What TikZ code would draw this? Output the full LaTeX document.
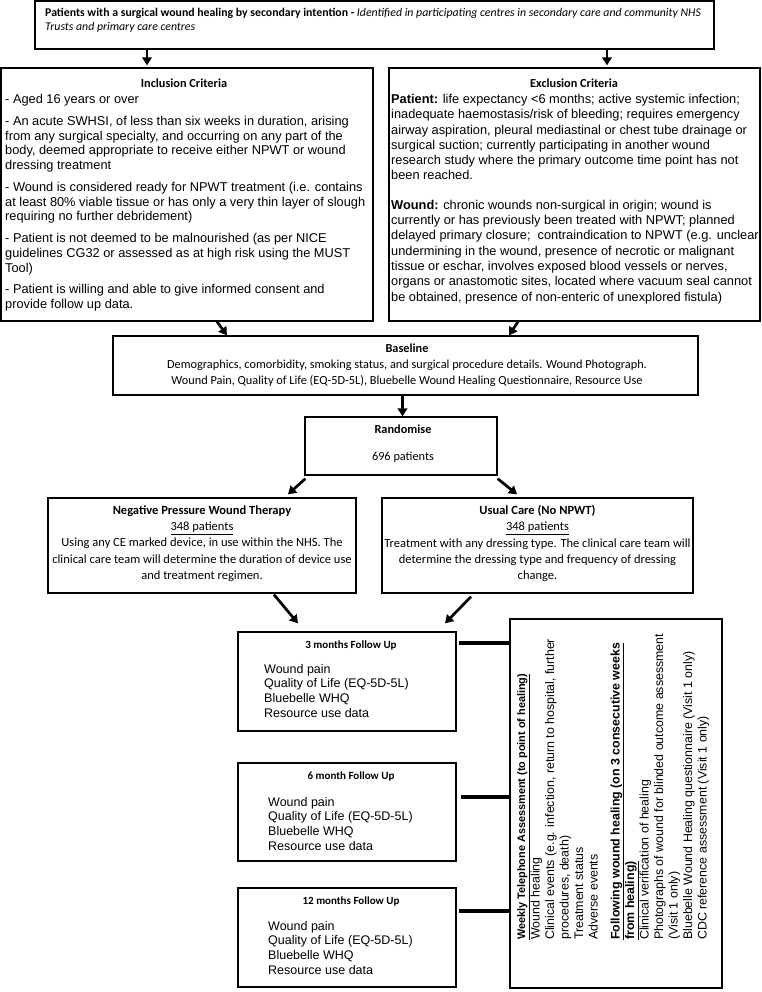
\documentclass[tikz,border=0pt]{standalone}
\usepackage{fontspec}
\setmainfont{Liberation Sans}
\newfontfamily\calfont{Carlito}
\newfontfamily\arialfont{Liberation Sans}
\usetikzlibrary{arrows.meta}

\begin{document}
\begin{tikzpicture}[x=1pt,y=-1pt,
  box/.style={draw, line width=1.3pt, inner sep=0pt},
  arr/.style={line width=2.7pt, -{Triangle[length=8pt,width=9.5pt]}},
  link/.style={line width=4pt},
  txt/.style={inner sep=0pt, align=left},
  ctxt/.style={inner sep=0pt, align=center},
  arbody/.style={font=\arialfont\fontsize{12.8}{14.7}\selectfont},
  exbody/.style={font=\arialfont\fontsize{12.8}{15.3}\selectfont},
  listbody/.style={font=\arialfont\fontsize{12.5}{14.7}\selectfont},
  crit/.style={font=\calfont\bfseries\fontsize{12.3}{14}\selectfont},
  fut/.style={font=\calfont\bfseries\fontsize{11}{13}\selectfont},
  calbody/.style={font=\calfont\fontsize{12.5}{16.2}\selectfont}
]
\useasboundingbox (0,0) rectangle (762,992);

% ---------- boxes ----------
\node[box, minimum width=679pt, minimum height=48pt] (top) at (374.5,25) {};
\node[box, minimum width=372pt, minimum height=253pt] (inc) at (187,194.5) {};
\node[box, minimum width=371pt, minimum height=253pt] (exc) at (574.5,194.5) {};
\node[box, minimum width=585pt, minimum height=59pt] (base) at (405.5,365.5) {};
\node[box, minimum width=192pt, minimum height=58pt] (rand) at (401,446) {};
\node[box, minimum width=308pt, minimum height=95pt] (npwt) at (202,545.5) {};
\node[box, minimum width=311pt, minimum height=95pt] (uc) at (537.5,545.5) {};
\node[box, minimum width=218pt, minimum height=99pt] (fu3) at (347,681.5) {};
\node[box, minimum width=218pt, minimum height=98pt] (fu6) at (347,812) {};
\node[box, minimum width=218pt, minimum height=99pt] (fu12) at (347,937.5) {};
\node[box, minimum width=212pt, minimum height=369pt] (tel) at (616,803.5) {};

% ---------- texts ----------
\node[txt, anchor=north west, font=\calfont\fontsize{11.8}{14}\selectfont] (toptext) at (45,8)
  {\textbf{Patients with a surgical wound healing by secondary intention -} \textit{Identified in participating centres in secondary care and community NHS}\\
   \textit{Trusts and primary care centres}};

\node[crit] (inctitle) at (184,83) {Inclusion Criteria};
\node[txt, arbody, anchor=north west] (inctext) at (5,94)
  {- Aged 16 years or over\\[7.2pt]
   - An acute SWHSI, of less than six weeks in duration, arising\\
   from any surgical specialty, and occurring on any part of the\\
   body, deemed appropriate to receive either NPWT or wound\\
   dressing treatment\\[7.2pt]
   - Wound is considered ready for NPWT treatment (i.e. contains\\
   at least 80\% viable tissue or has only a very thin layer of slough\\
   requiring no further debridement)\\[7.2pt]
   - Patient is not deemed to be malnourished (as per NICE\\
   guidelines CG32 or assessed as at high risk using the MUST\\
   Tool)\\[7.2pt]
   - Patient is willing and able to give informed consent and\\
   provide follow up data.};

\node[crit] (exctitle) at (574,83) {Exclusion Criteria};
\node[txt, exbody, anchor=north west] (exctext) at (391,94)
  {\textbf{Patient:} life expectancy <6 months; active systemic infection;\\
   inadequate haemostasis/risk of bleeding; requires emergency\\
   airway aspiration, pleural mediastinal or chest tube drainage or\\
   surgical suction; currently participating in another wound\\
   research study where the primary outcome time point has not\\
   been reached.\\[14pt]
   \textbf{Wound:} chronic wounds non-surgical in origin; wound is\\
   currently or has previously been treated with NPWT; planned\\
   delayed primary closure;\ \ contraindication to NPWT (e.g. unclear\\
   undermining in the wound, presence of necrotic or malignant\\
   tissue or eschar, involves exposed blood vessels or nerves,\\
   organs or anastomotic sites, located where vacuum seal cannot\\
   be obtained, presence of non-enteric of unexplored fistula)};

\node[ctxt, font=\calfont\fontsize{12.3}{15.8}\selectfont] (basetext) at (407,365)
  {\textbf{Baseline}\\
   Demographics, comorbidity, smoking status, and surgical procedure details. Wound Photograph.\\
   Wound Pain, Quality of Life (EQ-5D-5L), Bluebelle Wound Healing Questionnaire, Resource Use};

\node[ctxt, font=\calfont\fontsize{12.3}{16}\selectfont] (randtext) at (403,443.5)
  {\textbf{Randomise}\\[11pt] 696 patients};

\node[ctxt, calbody] (npwttext) at (202,543.5)
  {\textbf{Negative Pressure Wound Therapy}\\
   \underline{348 patients}\\
   Using any CE marked device, in use within the NHS. The\\
   clinical care team will determine the duration of device use\\
   and treatment regimen.};

\node[ctxt, calbody] (uctext) at (537.5,543.5)
  {\textbf{Usual Care (No NPWT)}\\
   \underline{348 patients}\\
   Treatment with any dressing type. The clinical care team will\\
   determine the dressing type and frequency of dressing\\
   change.};

\node[fut] (fu3title) at (351,645) {3 months Follow Up};
\node[txt, listbody, anchor=north west] (fu3text) at (264,664)
  {Wound pain\\ Quality of Life (EQ-5D-5L)\\ Bluebelle WHQ\\ Resource use data};

\node[fut] (fu6title) at (351,776) {6 month Follow Up};
\node[txt, listbody, anchor=north west] (fu6text) at (268,797)
  {Wound pain\\ Quality of Life (EQ-5D-5L)\\ Bluebelle WHQ\\ Resource use data};

\node[fut] (fu12title) at (351,901) {12 months Follow Up};
\node[txt, listbody, anchor=north west] (fu12text) at (268,921)
  {Wound pain\\ Quality of Life (EQ-5D-5L)\\ Bluebelle WHQ\\ Resource use data};

\node[txt, rotate=90, anchor=north west, font=\arialfont\fontsize{12.4}{14.5}\selectfont] (teltext) at (517,940)
  {{\fontsize{10.9}{14.5}\selectfont\textbf{\underline{Weekly Telephone Assessment (to point of healing)}}}\\
   Wound healing\\
   Clinical events (e.g. infection, return to hospital, further\\
   procedures, death)\\
   Treatment status\\
   Adverse events\\[7.5pt]
   \textbf{\underline{Following wound healing (on 3 consecutive weeks}}\\
   \textbf{\underline{from healing)}}\\
   Clinical verification of healing\\
   Photographs of wound for blinded outcome assessment\\
   (Visit 1 only)\\
   Bluebelle Wound Healing questionnaire (Visit 1 only)\\
   CDC reference assessment (Visit 1 only)};

% ---------- connectors ----------
\coordinate (a1) at ([xshift=-227.5pt]top.south);
\draw[arr, shorten >=2pt] (a1) -- (a1 |- inc.north);
\coordinate (a2) at ([xshift=232.5pt]top.south);
\draw[arr, shorten >=2pt] (a2) -- (a2 |- exc.north);

\draw[arr] ([xshift=30pt]inc.south) -- ([xshift=-178.5pt]base.north);
\draw[arr] ([xshift=-56.5pt]exc.south) -- ([xshift=103.5pt]base.north);

\coordinate (a3) at ([xshift=-3pt]base.south);
\draw[arr] (a3) -- (a3 |- rand.north);

\draw[arr] ([shift={(1pt,-3pt)}]rand.south west) -- ([xshift=86pt,yshift=3pt]npwt.north);
\draw[arr] ([shift={(0pt,-3pt)}]rand.south east) -- ([xshift=-20.5pt,yshift=3pt]uc.north);

\draw[arr] ([xshift=72pt,yshift=-1pt]npwt.south) -- ([xshift=-49pt,yshift=8pt]fu3.north);
\draw[arr] ([xshift=-66.5pt,yshift=-3pt]uc.south) -- ([xshift=98pt,yshift=8pt]fu3.north);

\coordinate (l1) at ([xshift=2pt,yshift=38.5pt]fu3.east);
\draw[link] (l1) -- (l1 -| tel.west);
\coordinate (l2) at ([xshift=4pt,yshift=15pt]fu6.east);
\draw[link] (l2) -- (l2 -| tel.west);
\coordinate (l3) at ([xshift=2pt,yshift=26.5pt]fu12.east);
\draw[link] (l3) -- (l3 -| tel.west);
\end{tikzpicture}
\end{document}
